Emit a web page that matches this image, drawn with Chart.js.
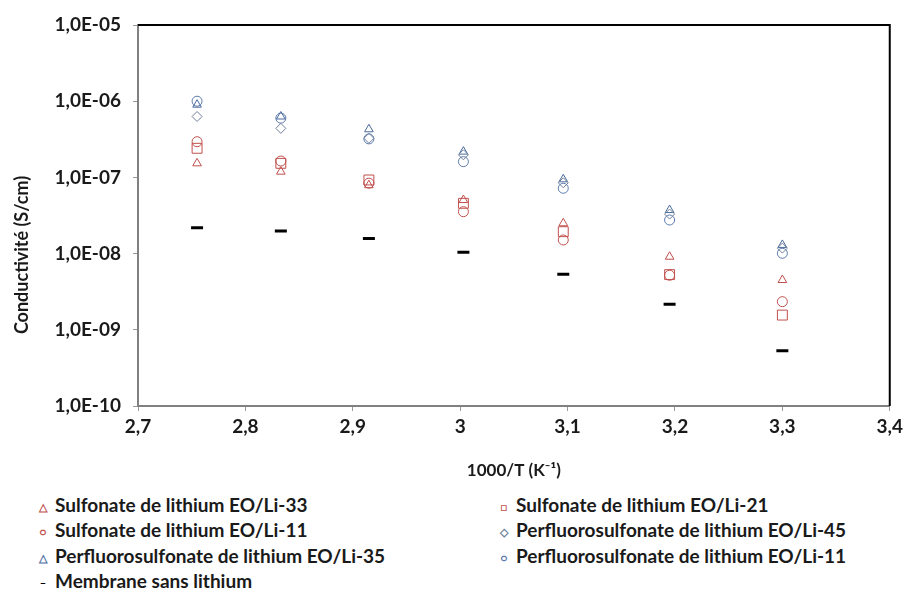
<!DOCTYPE html>
<html lang="fr">
<head>
  <meta charset="UTF-8">
  <title>Conductivité</title>
  <script src="https://cdn.jsdelivr.net/npm/chart.js"></script>
  <style>
    body {
      margin: 0;
      padding: 0;
      background-color: #fff;
      font-family: Lato, Arial, sans-serif;
    }
    .page {
      position: relative;
      width: 907px;
      height: 600px;
    }
    .zone {
      position: absolute;
      left: 0;
      top: 0;
      width: 907px;
      height: 485px;
    }
    .legende {
      position: absolute;
      left: 36px;
      top: 493px;
      display: grid;
      grid-template-columns: 461px 400px;
      font-weight: bold;
      font-size: 19px;
      line-height: 23.4px;
      color: #1a1a1a;
    }
    .legende span.m {
      display: inline-block;
      width: 14px;
      font-size: 11px;
      text-align: center;
      margin-right: 5px;
      vertical-align: 1px;
    }
  </style>
</head>
<body>
  <div class="page">
    <div class="zone"><canvas id="graficoConductivite"></canvas></div>
    <div class="legende" id="legende"></div>
  </div>

  <script>
    // Données
    const invT = [2.755, 2.833, 2.915, 3.003, 3.096, 3.195, 3.300];
    const sulfLi33 = [1.53e-7, 1.19e-7, 7.9e-8, 5.05e-8, 2.5e-8, 9.1e-9, 4.5e-9];
    const sulfLi21 = [2.41e-7, 1.53e-7, 9.25e-8, 4.57e-8, 1.94e-8, 5.3e-9, 1.56e-9];
    const sulfLi11 = [2.94e-7, 1.64e-7, 8.4e-8, 3.55e-8, 1.51e-8, 5.2e-9, 2.34e-9];
    const perfLi45 = [6.3e-7, 4.4e-7, 3.26e-7, 1.98e-7, 8.5e-8, 3.3e-8, 1.18e-8];
    const perfLi35 = [9.0e-7, 6.3e-7, 4.28e-7, 2.18e-7, 9.44e-8, 3.73e-8, 1.3e-8];
    const perfLi11 = [1.0e-6, 6.0e-7, 3.2e-7, 1.61e-7, 7.2e-8, 2.76e-8, 1.01e-8];
    const sansLithium = [2.19e-8, 1.98e-8, 1.58e-8, 1.04e-8, 5.35e-9, 2.16e-9, 5.3e-10];

    const yTicks = [1e-10, 1e-9, 1e-8, 1e-7, 1e-6, 1e-5];
    const xTicks = [2.7, 2.8, 2.9, 3.0, 3.1, 3.2, 3.3, 3.4];

    const series = [
      { label: 'Sulfonate de lithium EO/Li-33', data: sulfLi33, style: 'triangle', color: '#C0504D', r: 5, glyph: '△' },
      { label: 'Sulfonate de lithium EO/Li-21', data: sulfLi21, style: 'rect', color: '#C0504D', r: 7, glyph: '□' },
      { label: 'Sulfonate de lithium EO/Li-11', data: sulfLi11, style: 'circle', color: '#C0504D', r: 5, glyph: '○' },
      { label: 'Perfluorosulfonate de lithium EO/Li-45', data: perfLi45, style: 'rectRot', color: '#6F7F99', r: 5, glyph: '◇' },
      { label: 'Perfluorosulfonate de lithium EO/Li-35', data: perfLi35, style: 'triangle', color: '#4A6A9E', r: 5, glyph: '△' },
      { label: 'Perfluorosulfonate de lithium EO/Li-11', data: perfLi11, style: 'circle', color: '#5B7BAE', r: 5, glyph: '○' },
      { label: 'Membrane sans lithium', data: sansLithium, style: 'line', color: '#000000', r: 6, glyph: '–', bw: 3 }
    ];

    const datasets = series.map(s => ({
      label: s.label,
      data: s.data.map((v, i) => ({ x: invT[i], y: v })),
      showLine: false,
      pointStyle: s.style,
      pointRadius: s.r,
      pointBorderColor: s.color,
      pointBackgroundColor: 'rgba(0,0,0,0)',
      pointBorderWidth: s.bw || 1
    }));

    // Légende en HTML (deux colonnes)
    const legende = document.getElementById('legende');
    series.forEach(s => {
      const div = document.createElement('div');
      div.innerHTML = `<span class="m" style="color:${s.color}">${s.glyph}</span>${s.label}`;
      legende.appendChild(div);
    });

    function formatE(v) {
      const exp = Math.round(Math.log10(v));
      const sign = exp < 0 ? '-' : '+';
      return '1,0E' + sign + String(Math.abs(exp)).padStart(2, '0');
    }

    // Cadre haut/droite en noir + titre de l'axe Y (placé un peu plus bas, comme Excel)
    const cadre = {
      id: 'cadre',
      afterDraw(chart) {
        const { ctx, chartArea: a } = chart;
        ctx.save();
        ctx.strokeStyle = '#000';
        ctx.lineWidth = 2;
        ctx.beginPath();
        ctx.moveTo(a.left, a.top);
        ctx.lineTo(a.right, a.top);
        ctx.lineTo(a.right, a.bottom);
        ctx.stroke();

        ctx.translate(22, 255);
        ctx.rotate(-Math.PI / 2);
        ctx.fillStyle = '#1a1a1a';
        ctx.font = 'bold 18px Lato';
        ctx.textAlign = 'center';
        ctx.textBaseline = 'middle';
        ctx.fillText('Conductivité (S/cm)', 0, 0);
        ctx.restore();
      }
    };

    const ctx = document.getElementById('graficoConductivite').getContext('2d');
    new Chart(ctx, {
      type: 'scatter',
      data: { datasets: datasets },
      options: {
        responsive: true,
        maintainAspectRatio: false,
        animation: false,
        layout: { padding: { top: 25, right: 16 } },
        plugins: {
          legend: { display: false },
          tooltip: { enabled: false }
        },
        scales: {
          x: {
            type: 'linear',
            min: 2.7,
            max: 3.4,
            afterBuildTicks: scale => { scale.ticks = xTicks.map(v => ({ value: v })); },
            afterFit: scale => { scale.height = 79; },
            ticks: {
              color: '#1a1a1a',
              font: { family: 'Lato', size: 19, weight: 'bold' },
              padding: 4,
              callback: v => String(Number(v.toFixed(1))).replace('.', ',')
            },
            grid: { drawOnChartArea: false, color: '#9a9a9a', tickLength: 5 },
            border: { color: '#808080', width: 2 },
            title: {
              display: true,
              text: '1000/T (K⁻¹)',
              color: '#1a1a1a',
              font: { family: 'Lato', size: 17, weight: 'bold' },
              padding: { top: 2 }
            }
          },
          y: {
            type: 'logarithmic',
            min: 1e-10,
            max: 1e-5,
            afterBuildTicks: scale => { scale.ticks = yTicks.map(v => ({ value: v })); },
            afterFit: scale => { scale.width = 138; },
            ticks: {
              color: '#1a1a1a',
              font: { family: 'Lato', size: 19, weight: 'bold' },
              padding: 12,
              callback: v => formatE(v)
            },
            grid: { drawOnChartArea: false, color: '#9a9a9a', tickLength: 5 },
            border: { color: '#808080', width: 2 }
          }
        }
      },
      plugins: [cadre]
    });
  </script>
</body>
</html>
